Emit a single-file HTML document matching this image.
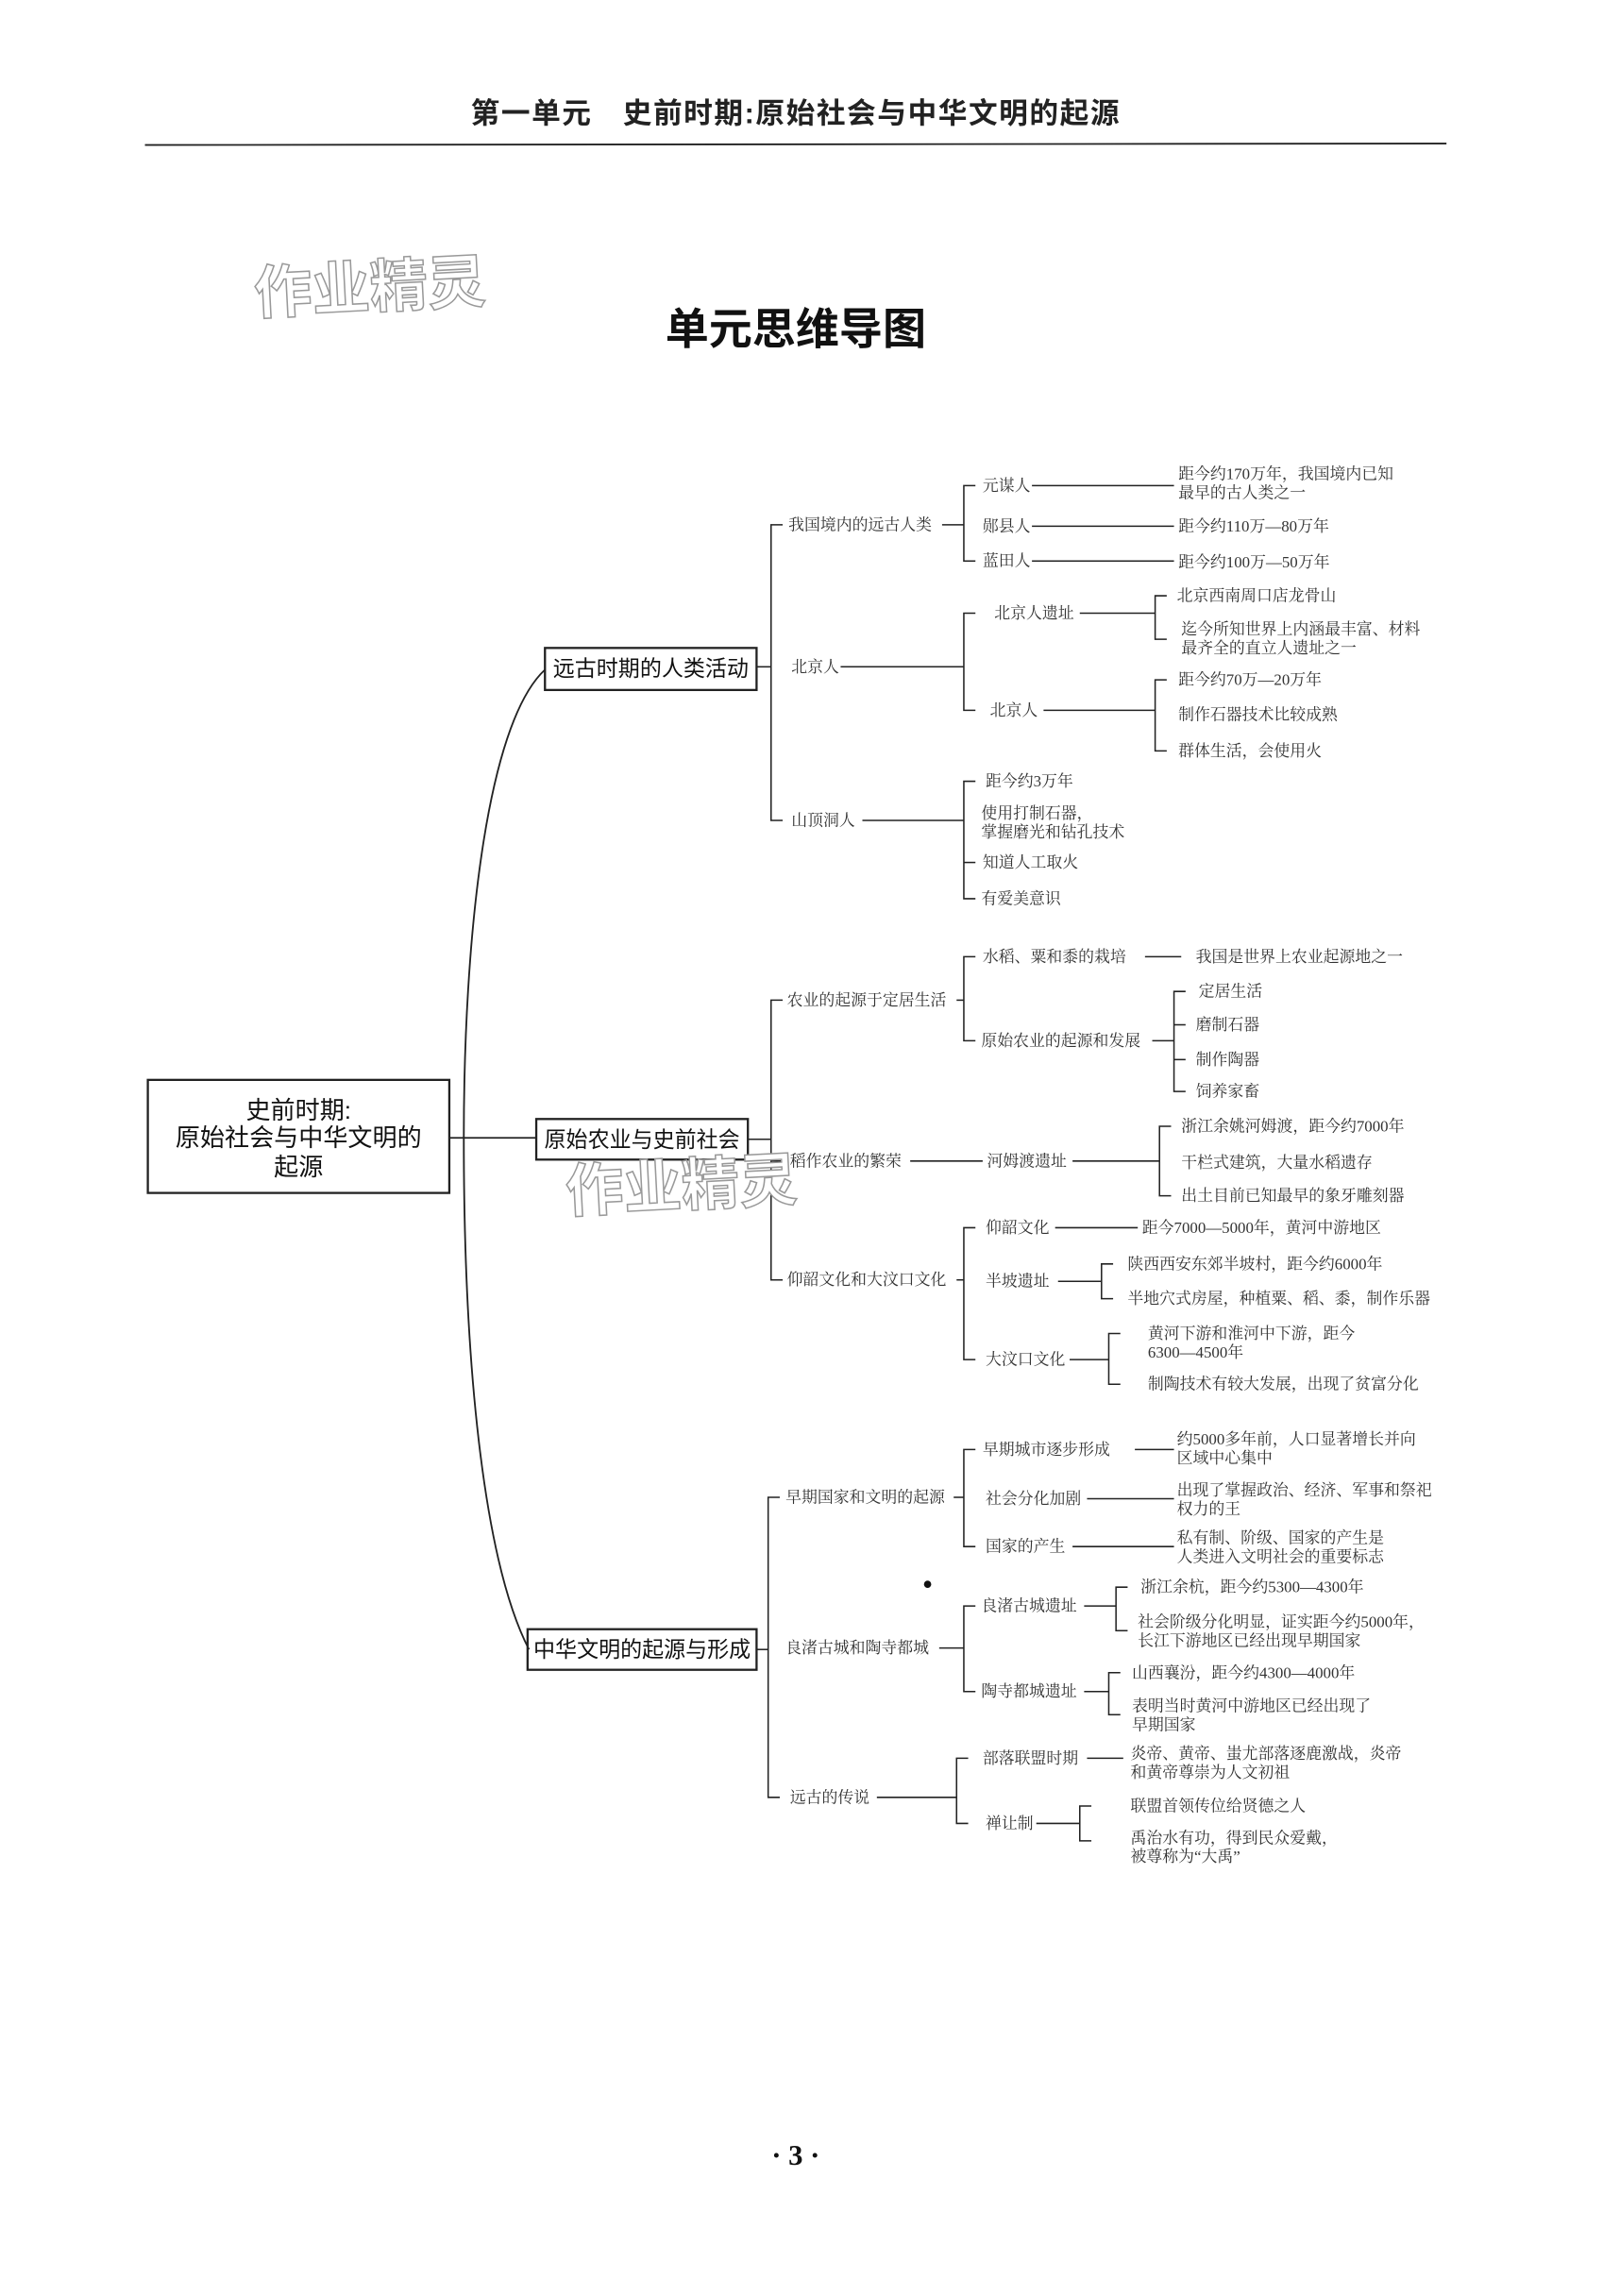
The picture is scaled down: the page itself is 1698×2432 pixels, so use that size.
<!DOCTYPE html>
<html><head><meta charset="utf-8">
<style>
html,body{margin:0;padding:0;background:#fff;}
svg{display:block;background:#fff;}
.s{font-family:"Liberation Serif","Noto Serif CJK SC",serif;font-size:11px;fill:#333;dominant-baseline:central;}
.b{font-family:"Liberation Sans","Noto Sans CJK SC",sans-serif;font-size:15px;fill:#111;dominant-baseline:central;}
.wm{font-family:"Liberation Sans","Noto Sans CJK SC",sans-serif;font-size:40px;fill:#fff;stroke:#999;stroke-width:1;font-weight:bold;}
line,polyline,path,rect{stroke:#222;fill:none;}
</style></head><body>
<svg width="1698" height="2432" viewBox="0 0 1106 1584" xmlns="http://www.w3.org/2000/svg">
<text x="549" y="78" text-anchor="middle" style="font-family:'Liberation Sans','Noto Sans CJK SC',sans-serif;font-size:20px;font-weight:600;letter-spacing:1px;fill:#222;dominant-baseline:central">第一单元　史前时期:原始社会与中华文明的起源</text>
<line x1="100" y1="100" x2="998" y2="99" stroke-width="1.2"/>
<text class="wm" x="175" y="212" transform="rotate(-3 260 195)">作业精灵</text>
<text x="549" y="227" text-anchor="middle" style="font-family:'Liberation Sans','Noto Sans CJK SC',sans-serif;font-size:30px;font-weight:bold;fill:#111;dominant-baseline:central">单元思维导图</text>

<!-- root -->
<rect x="102" y="745" width="208" height="78" stroke-width="1.5"/>
<text class="b" x="206" y="766" text-anchor="middle" style="font-size:17px">史前时期:</text>
<text class="b" x="206" y="785" text-anchor="middle" style="font-size:17px">原始社会与中华文明的</text>
<text class="b" x="206" y="805" text-anchor="middle" style="font-size:17px">起源</text>
<line x1="310" y1="785" x2="370" y2="785" stroke-width="1.2"/>
<path d="M376,462 C 335,500 320,650 320,785 C 320,950 335,1080 365,1138" stroke-width="1.2"/>

<!-- level1 boxes -->
<rect x="376" y="447" width="146" height="29" stroke-width="1.5"/>
<text class="b" x="449" y="461" text-anchor="middle">远古时期的人类活动</text>
<rect x="370" y="772" width="146" height="28" stroke-width="1.5"/>
<text class="b" x="443" y="786" text-anchor="middle">原始农业与史前社会</text>
<rect x="364" y="1124" width="158" height="28" stroke-width="1.5"/>
<text class="b" x="443" y="1138" text-anchor="middle">中华文明的起源与形成</text>

<!-- Branch 1 -->
<line x1="522" y1="460" x2="532" y2="460"/>
<polyline points="540,362 532,362 532,566 540,566"/>
<text class="s" x="544" y="362">我国境内的远古人类</text>
<text class="s" x="546" y="460">北京人</text>
<text class="s" x="546" y="566">山顶洞人</text>
<line x1="650" y1="362" x2="665" y2="362"/>
<polyline points="673,335 665,335 665,387 673,387"/>
<text class="s" x="678" y="335">元谋人</text>
<text class="s" x="678" y="363">郧县人</text>
<text class="s" x="678" y="387">蓝田人</text>
<line x1="712" y1="335" x2="810" y2="335"/>
<line x1="712" y1="363" x2="810" y2="363"/>
<line x1="712" y1="387" x2="810" y2="387"/>
<text class="s" x="813" y="327">距今约170万年，我国境内已知</text>
<text class="s" x="813" y="340">最早的古人类之一</text>
<text class="s" x="813" y="363">距今约110万—80万年</text>
<text class="s" x="813" y="388">距今约100万—50万年</text>

<line x1="580" y1="460" x2="665" y2="460"/>
<polyline points="673,423 665,423 665,490 673,490"/>
<text class="s" x="686" y="423">北京人遗址</text>
<text class="s" x="683" y="490">北京人</text>
<line x1="745" y1="423" x2="797" y2="423"/>
<polyline points="805,411 797,411 797,441 805,441"/>
<text class="s" x="812" y="411">北京西南周口店龙骨山</text>
<text class="s" x="815" y="434">迄今所知世界上内涵最丰富、材料</text>
<text class="s" x="815" y="447">最齐全的直立人遗址之一</text>
<line x1="720" y1="490" x2="797" y2="490"/>
<polyline points="805,469 797,469 797,518 805,518"/>
<text class="s" x="813" y="469">距今约70万—20万年</text>
<text class="s" x="813" y="493">制作石器技术比较成熟</text>
<text class="s" x="813" y="518">群体生活，会使用火</text>

<line x1="595" y1="566" x2="665" y2="566"/>
<polyline points="673,539 665,539 665,620 673,620"/>
<line x1="665" y1="595" x2="673" y2="595"/>
<text class="s" x="680" y="539">距今约3万年</text>
<text class="s" x="677" y="561">使用打制石器，</text>
<text class="s" x="677" y="574">掌握磨光和钻孔技术</text>
<text class="s" x="678" y="595">知道人工取火</text>
<text class="s" x="677" y="620">有爱美意识</text>

<!-- Branch 2 -->
<line x1="516" y1="786" x2="532" y2="786"/>
<polyline points="540,690 532,690 532,883 540,883"/>
<text class="s" x="543" y="690">农业的起源于定居生活</text>
<text class="s" x="545" y="801">稻作农业的繁荣</text>
<line x1="532" y1="801" x2="540" y2="801"/>
<text class="s" x="543" y="883">仰韶文化和大汶口文化</text>
<line x1="660" y1="690" x2="665" y2="690"/>
<polyline points="673,660 665,660 665,718 673,718"/>
<text class="s" x="678" y="660">水稻、粟和黍的栽培</text>
<line x1="790" y1="660" x2="815" y2="660"/>
<text class="s" x="825" y="660">我国是世界上农业起源地之一</text>
<text class="s" x="677" y="718">原始农业的起源和发展</text>
<line x1="795" y1="718" x2="810" y2="718"/>
<polyline points="818,684 810,684 810,753 818,753"/>
<line x1="810" y1="707" x2="818" y2="707"/><line x1="810" y1="731" x2="818" y2="731"/>
<text class="s" x="827" y="684">定居生活</text>
<text class="s" x="825" y="707">磨制石器</text>
<text class="s" x="825" y="731">制作陶器</text>
<text class="s" x="825" y="753">饲养家畜</text>
<line x1="628" y1="801" x2="678" y2="801"/>
<text class="s" x="681" y="801">河姆渡遗址</text>
<line x1="740" y1="801" x2="800" y2="801"/>
<polyline points="808,777 800,777 800,825 808,825"/>
<text class="s" x="815" y="777">浙江余姚河姆渡，距今约7000年</text>
<text class="s" x="815" y="802">干栏式建筑，大量水稻遗存</text>
<text class="s" x="815" y="825">出土目前已知最早的象牙雕刻器</text>
<text class="wm" x="390" y="832" transform="rotate(-3 470 815)">作业精灵</text>

<line x1="660" y1="883" x2="665" y2="883"/>
<polyline points="673,847 665,847 665,938 673,938"/>
<text class="s" x="680" y="847">仰韶文化</text>
<line x1="728" y1="847" x2="785" y2="847"/>
<text class="s" x="788" y="847">距今7000—5000年，黄河中游地区</text>
<text class="s" x="680" y="884">半坡遗址</text>
<line x1="730" y1="884" x2="760" y2="884"/>
<polyline points="768,872 760,872 760,896 768,896"/>
<text class="s" x="778" y="872">陕西西安东郊半坡村，距今约6000年</text>
<text class="s" x="778" y="896">半地穴式房屋，种植粟、稻、黍，制作乐器</text>
<text class="s" x="680" y="938">大汶口文化</text>
<line x1="738" y1="938" x2="765" y2="938"/>
<polyline points="773,920 765,920 765,955 773,955"/>
<text class="s" x="792" y="920">黄河下游和淮河中下游，距今</text>
<text class="s" x="792" y="933">6300—4500年</text>
<text class="s" x="792" y="955">制陶技术有较大发展，出现了贫富分化</text>

<!-- Branch 3 -->
<line x1="522" y1="1138" x2="530" y2="1138"/>
<polyline points="538,1033 530,1033 530,1240 538,1240"/>
<text class="s" x="542" y="1033">早期国家和文明的起源</text>
<text class="s" x="542" y="1137">良渚古城和陶寺都城</text>
<text class="s" x="545" y="1240">远古的传说</text>
<line x1="658" y1="1033" x2="665" y2="1033"/>
<polyline points="673,1000 665,1000 665,1067 673,1067"/>
<text class="s" x="678" y="1000">早期城市逐步形成</text>
<line x1="783" y1="1000" x2="810" y2="1000"/>
<text class="s" x="812" y="993">约5000多年前，人口显著增长并向</text>
<text class="s" x="812" y="1006">区域中心集中</text>
<text class="s" x="680" y="1034">社会分化加剧</text>
<line x1="750" y1="1034" x2="810" y2="1034"/>
<text class="s" x="812" y="1028">出现了掌握政治、经济、军事和祭祀</text>
<text class="s" x="812" y="1041">权力的王</text>
<text class="s" x="680" y="1067">国家的产生</text>
<line x1="740" y1="1067" x2="810" y2="1067"/>
<text class="s" x="812" y="1061">私有制、阶级、国家的产生是</text>
<text class="s" x="812" y="1074">人类进入文明社会的重要标志</text>
<circle cx="640" cy="1093" r="2.5" fill="#111" stroke="none"/>

<line x1="648" y1="1137" x2="665" y2="1137"/>
<polyline points="673,1108 665,1108 665,1167 673,1167"/>
<text class="s" x="677" y="1108">良渚古城遗址</text>
<line x1="748" y1="1108" x2="770" y2="1108"/>
<polyline points="778,1095 770,1095 770,1125 778,1125"/>
<text class="s" x="787" y="1095">浙江余杭，距今约5300—4300年</text>
<text class="s" x="785" y="1119">社会阶级分化明显，证实距今约5000年，</text>
<text class="s" x="785" y="1132">长江下游地区已经出现早期国家</text>
<text class="s" x="677" y="1167">陶寺都城遗址</text>
<line x1="748" y1="1167" x2="765" y2="1167"/>
<polyline points="773,1154 765,1154 765,1183 773,1183"/>
<text class="s" x="781" y="1154">山西襄汾，距今约4300—4000年</text>
<text class="s" x="781" y="1177">表明当时黄河中游地区已经出现了</text>
<text class="s" x="781" y="1190">早期国家</text>

<line x1="605" y1="1240" x2="660" y2="1240"/>
<polyline points="668,1213 660,1213 660,1258 668,1258"/>
<text class="s" x="678" y="1213">部落联盟时期</text>
<line x1="750" y1="1213" x2="775" y2="1213"/>
<text class="s" x="780" y="1210">炎帝、黄帝、蚩尤部落逐鹿激战，炎帝</text>
<text class="s" x="780" y="1223">和黄帝尊崇为人文初祖</text>
<text class="s" x="680" y="1258">禅让制</text>
<line x1="715" y1="1258" x2="745" y2="1258"/>
<polyline points="753,1246 745,1246 745,1270 753,1270"/>
<text class="s" x="780" y="1246">联盟首领传位给贤德之人</text>
<text class="s" x="780" y="1268">禹治水有功，得到民众爱戴，</text>
<text class="s" x="780" y="1281">被尊称为“大禹”</text>

<text x="549" y="1487" text-anchor="middle" style="font-family:'Liberation Serif','Noto Serif CJK SC',serif;font-size:20px;font-weight:bold;fill:#111;dominant-baseline:central">· 3 ·</text>
</svg>
</body></html>
